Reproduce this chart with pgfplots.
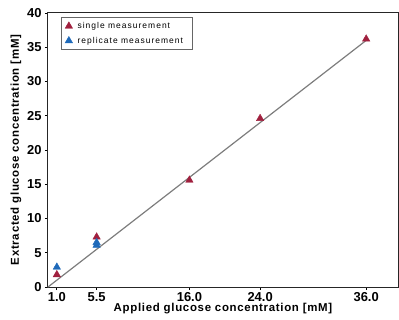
\documentclass[border=0pt]{standalone}
\usepackage{fontspec}
\setmainfont{Liberation Sans}
\usepackage{pgfplots}
\pgfplotsset{compat=1.18}
\definecolor{cred}{RGB}{160,32,62}
\definecolor{cblue}{RGB}{30,105,185}
\definecolor{cline}{RGB}{125,125,125}
\begin{document}
\begin{tikzpicture}
\begin{axis}[
  at={(0,0)}, anchor=south west,
  scale only axis, width=350bp, height=274bp,
  xmin=0, xmax=39.6, ymin=0, ymax=40,
  xtick={1,5.5,16,24,36},
  xticklabels={1.0,5.5,16.0,24.0,36.0},
  ytick={0,5,...,40},
  tick align=outside,
  ytick pos=left,
  xtick pos=bottom,
  major tick length=3bp,
  tick style={black, line width=0.7bp},
  axis line style={black!85, line width=1bp},
  ticklabel style={font=\fontsize{13}{14}\selectfont\bfseries},
  xticklabel style={yshift=1bp},
  /pgf/number format/assume math mode=true,
  xlabel={Applied glucose concentration [mM]},
  ylabel={Extracted glucose concentration [mM]},
  label style={font=\fontsize{11.5}{13}\selectfont\bfseries\addfontfeature{LetterSpace=6}},
  xlabel style={yshift=5bp},
  ylabel style={yshift=-1bp},
  legend style={at={(0.037,0.985)}, anchor=north west, draw=black!60, font=\fontsize{8.5}{10}\selectfont\addfontfeature{LetterSpace=12}, row sep=3bp, inner xsep=4bp, inner ysep=3bp, nodes={inner xsep=5bp}},
  legend cell align=left,
  clip=false,
]
\addplot[cline, line width=1.2bp, forget plot] coordinates {(0,0) (36,36)};
\addplot[only marks, mark=triangle*, mark size=4.3bp, color=cred] coordinates {(1,1.8) (5.5,7.3) (16,15.6) (24,24.6) (36,36.2)};
\addlegendentry{single measurement}
\addplot[only marks, mark=triangle*, mark size=4.3bp, color=cblue] coordinates {(1,2.9) (5.5,6.5) (5.5,6.1)};
\addlegendentry{replicate measurement}
\end{axis}
\pgfresetboundingbox
\path[use as bounding box] (-48bp,-33bp) rectangle (351bp,287bp);
\end{tikzpicture}
\end{document}
